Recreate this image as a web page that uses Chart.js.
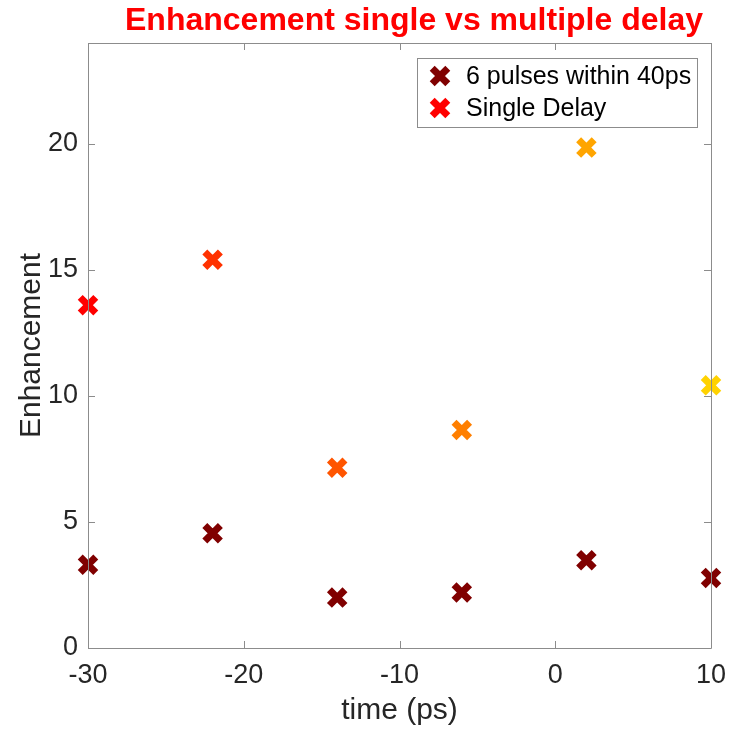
<!DOCTYPE html>
<html>
<head>
<meta charset="utf-8">
<script src="https://cdn.jsdelivr.net/npm/chart.js@4"></script>
<style>
html,body{margin:0;padding:0;background:#fff;}
#wrap{width:729px;height:729px;}
</style>
</head>
<body>
<div id="wrap"><canvas id="c" width="729" height="729"></canvas></div>
<script>
const timeValues = [-30, -22, -14, -6, 2, 10];
const multiPulseValues = [3.3, 4.55, 2.0, 2.2, 3.48, 2.78];
const singleDelayValues = [13.6, 15.4, 7.15, 8.65, 19.85, 10.42];
const singleDelayColors = ['#ff0000', '#ff3200', '#ff5500', '#ff7f00', '#ffa500', '#ffd200'];
const seriesLabels = ['6 pulses within 40ps', 'Single Delay'];
const chartTitle = 'Enhancement single vs multiple delay';
const xTicks = [-30, -20, -10, 0, 10];
const yTicks = [0, 5, 10, 15, 20];

const FONT = "'Liberation Sans', Arial, Helvetica, sans-serif";
const AX = '#8c8c8c';
const TXT = '#262626';

const boxPlugin = {
  id: 'box',
  afterDraw(chart) {
    const {ctx, chartArea: a, scales: {x, y}} = chart;
    ctx.save();
    ctx.strokeStyle = AX;
    ctx.lineWidth = 1;
    ctx.beginPath();
    ctx.rect(Math.round(a.left) + 0.5, Math.round(a.top) + 0.5, Math.round(a.right - a.left), Math.round(a.bottom - a.top));
    ctx.stroke();
    const tl = 7;
    ctx.beginPath();
    xTicks.forEach(v => {
      const px = Math.round(x.getPixelForValue(v)) + 0.5;
      ctx.moveTo(px, a.bottom); ctx.lineTo(px, a.bottom - tl);
      ctx.moveTo(px, a.top); ctx.lineTo(px, a.top + tl);
    });
    yTicks.forEach(v => {
      const py = Math.round(y.getPixelForValue(v)) + 0.5;
      ctx.moveTo(a.left, py); ctx.lineTo(a.left + tl, py);
      ctx.moveTo(a.right, py); ctx.lineTo(a.right - tl, py);
    });
    ctx.stroke();
    ctx.fillStyle = '#ff0000';
    ctx.font = 'bold 32px ' + FONT;
    ctx.textAlign = 'center';
    ctx.textBaseline = 'middle';
    ctx.fillText(chartTitle, 414, 21);
    ctx.restore();
  }
};

function drawX(ctx, cx, cy, color) {
  ctx.save();
  ctx.strokeStyle = color;
  ctx.lineWidth = 7;
  const h = 7.8;
  ctx.beginPath();
  ctx.moveTo(cx - h, cy - h); ctx.lineTo(cx + h, cy + h);
  ctx.moveTo(cx - h, cy + h); ctx.lineTo(cx + h, cy - h);
  ctx.stroke();
  ctx.restore();
}

const legendPlugin = {
  id: 'boxLegend',
  afterDraw(chart) {
    const ctx = chart.ctx;
    const L = 417, T = 58, W = 280, H = 69;
    ctx.save();
    ctx.fillStyle = '#fff';
    ctx.fillRect(L, T, W, H);
    ctx.strokeStyle = AX;
    ctx.lineWidth = 1;
    ctx.strokeRect(L + 0.5, T + 0.5, W, H);
    ctx.font = '25px ' + FONT;
    ctx.fillStyle = '#000';
    ctx.textBaseline = 'middle';
    const rows = [
      {label: chart.data.datasets[0].label, color: '#800000', y: T + 18},
      {label: chart.data.datasets[1].label, color: '#ff0000', y: T + 50}
    ];
    rows.forEach(r => {
      drawX(ctx, L + 23, r.y, r.color);
      ctx.fillText(r.label, L + 49, r.y + 1);
    });
    ctx.restore();
  }
};

new Chart(document.getElementById('c'), {
  type: 'scatter',
  data: {
    datasets: [
      {
        label: seriesLabels[0],
        data: timeValues.map((t, i) => ({x: t, y: multiPulseValues[i]})),
        pointStyle: 'crossRot',
        pointRadius: 11,
        pointBorderWidth: 7,
        pointHoverRadius: 11,
        pointHoverBorderWidth: 7,
        borderColor: '#800000',
        backgroundColor: '#800000',
        clip: false
      },
      {
        label: seriesLabels[1],
        data: timeValues.map((t, i) => ({x: t, y: singleDelayValues[i]})),
        pointStyle: 'crossRot',
        pointRadius: 11,
        pointBorderWidth: 7,
        pointHoverRadius: 11,
        pointHoverBorderWidth: 7,
        borderColor: singleDelayColors,
        backgroundColor: singleDelayColors,
        clip: false
      }
    ]
  },
  options: {
    responsive: false,
    animation: false,
    layout: {padding: {left: 0, right: 17, top: 43, bottom: 0}},
    plugins: {
      legend: {display: false},
      tooltip: {enabled: false},
      title: {display: false}
    },
    scales: {
      x: {
        type: 'linear',
        min: -30, max: 10,
        afterBuildTicks: s => { s.ticks = xTicks.map(v => ({value: v})); },
        afterFit: s => { s.height = 81; s.paddingRight = 0; s.paddingLeft = 0; },
        grid: {display: false, drawTicks: false},
        border: {display: false},
        ticks: {color: TXT, font: {family: FONT, size: 27}, padding: 11, maxRotation: 0},
        title: {display: true, text: 'time (ps)', color: TXT, font: {family: FONT, size: 30}, padding: {top: 0, bottom: 0}}
      },
      y: {
        type: 'linear',
        min: 0, max: 24,
        afterBuildTicks: s => { s.ticks = yTicks.map(v => ({value: v})); },
        afterFit: s => { s.width = 88; s.paddingTop = 0; s.paddingBottom = 0; },
        grid: {display: false, drawTicks: false},
        border: {display: false},
        ticks: {color: TXT, font: {family: FONT, size: 27}, padding: 10},
        title: {display: true, text: 'Enhancement', color: TXT, font: {family: FONT, size: 30}, padding: {top: 14, bottom: 0}}
      }
    }
  },
  plugins: [boxPlugin, legendPlugin]
});
</script>
</body>
</html>
